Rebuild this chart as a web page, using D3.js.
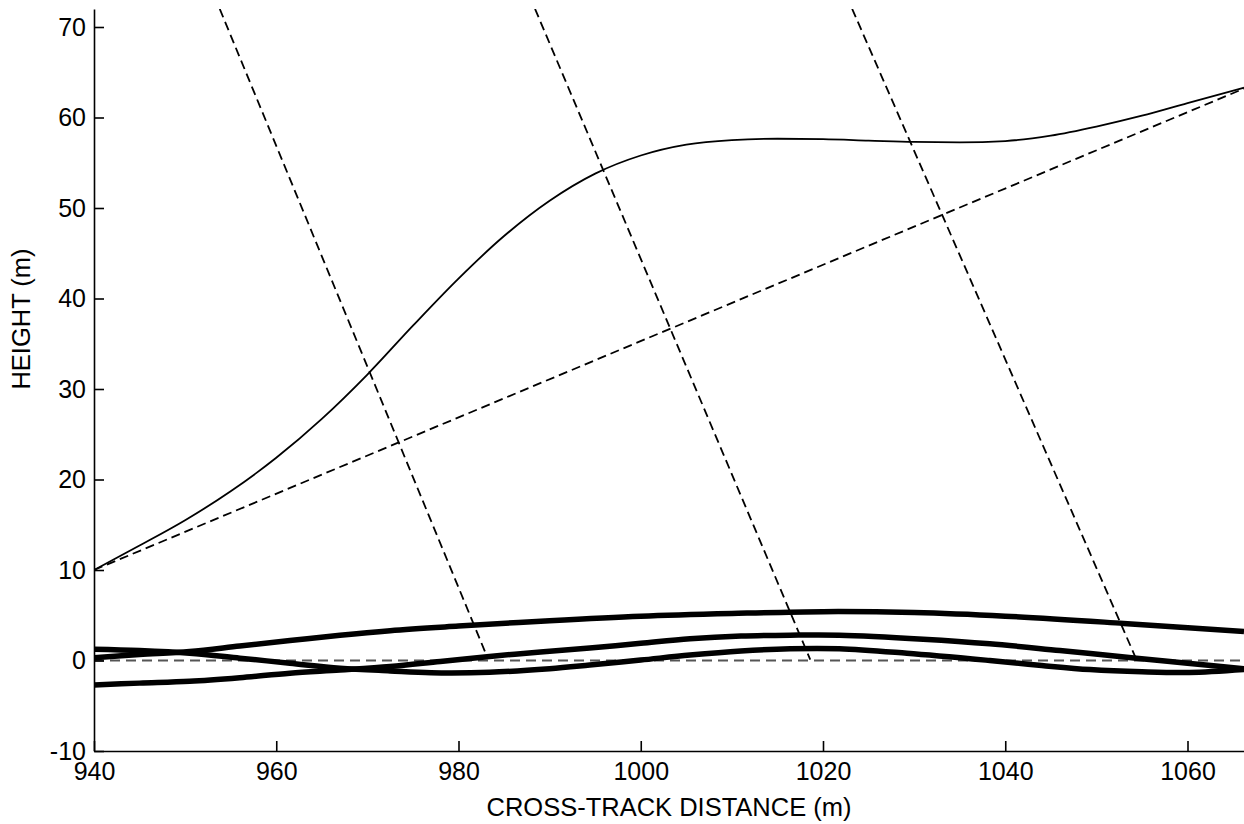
<!DOCTYPE html>
<html>
<head>
<meta charset="utf-8">
<script src="https://cdn.jsdelivr.net/npm/d3@7"></script>
<style>
  body { margin: 0; background: #fff; }
  svg { font-family: "Liberation Sans", Arial, sans-serif; }
</style>
</head>
<body>
<div id="vis"></div>
<script>
// thin solid profile
var thinX = [940, 945, 950, 955, 960, 965, 970, 975, 980, 985, 990, 995, 1000, 1005, 1010, 1015, 1020, 1025, 1030, 1035, 1040, 1045, 1050, 1055, 1060, 1066.2];
var thinY = [10, 12.7, 15.5, 18.7, 22.4, 26.7, 31.6, 37.0, 42.2, 46.9, 50.8, 53.8, 55.8, 57.0, 57.5, 57.65, 57.6, 57.45, 57.3, 57.25, 57.4, 58.0, 59.0, 60.2, 61.6, 63.3];

// three thick curves near the ground
var aX = [940, 945, 950.5, 956, 961.5, 967, 972.5, 980, 990, 1000, 1010, 1020, 1030, 1040, 1053, 1066.2];
var aY = [0.3, 0.65, 1.0, 1.6, 2.2, 2.8, 3.3, 3.8, 4.4, 4.9, 5.2, 5.4, 5.3, 4.9, 4.1, 3.2];
var bX = [940, 945, 950.5, 956, 961.5, 967, 972.5, 977, 983.4, 990, 994.4, 1000, 1005.4, 1011, 1016.4, 1021.8, 1029.2, 1038.3, 1044, 1049.3, 1055, 1060.2, 1066.2];
var bY = [1.25, 1.1, 0.8, 0.26, -0.3, -0.85, -1.15, -1.35, -1.3, -0.9, -0.5, 0.05, 0.6, 1.05, 1.3, 1.3, 0.8, 0.0, -0.55, -1.0, -1.25, -1.33, -1.0];
var cX = [940, 945, 950.5, 956, 961.5, 967, 972.5, 978, 983.4, 989, 994.4, 1000, 1005.4, 1011, 1016.4, 1021.8, 1031, 1038.3, 1046, 1054.4, 1060, 1066.2];
var cY = [-2.7, -2.5, -2.3, -1.9, -1.4, -1.05, -0.66, -0.1, 0.44, 0.95, 1.37, 1.9, 2.4, 2.7, 2.8, 2.8, 2.36, 1.85, 1.1, 0.26, -0.3, -0.9];

// straight dashed lines: [x1, y1, x2, y2]
var diagLine = [940, 10, 1066.2, 63.2];
var zeroLine = [940, 0, 1066.2, 0];
var steepLines = [
  [953.8, 72, 982.9, 1.0],
  [988.4, 72, 1018.6, 0.1],
  [1023.2, 72, 1054.4, 0.1]
];

var xTicks = [940, 960, 980, 1000, 1020, 1040, 1060];
var yTicks = [-10, 0, 10, 20, 30, 40, 50, 60, 70];

var W = 1244, H = 824;
var svg = d3.select("#vis").append("svg")
    .attr("width", W)
    .attr("height", H);

var x = d3.scaleLinear().domain([940, 1066.2]).range([94, 1244]);
var y = d3.scaleLinear().domain([-10, 72]).range([751, 8.9]);

svg.append("clipPath").attr("id", "plot")
  .append("rect")
    .attr("x", x(940)).attr("y", y(72))
    .attr("width", x(1066.2) - x(940)).attr("height", y(-10) - y(72));

var g = svg.append("g").attr("clip-path", "url(#plot)");

function zip(xs, ys) { return xs.map(function(d, i) { return [d, ys[i]]; }); }

var line = d3.line()
    .curve(d3.curveMonotoneX)
    .x(function(d) { return x(d[0]); })
    .y(function(d) { return y(d[1]); });

// zero reference
g.append("line")
    .attr("x1", x(zeroLine[0])).attr("y1", y(zeroLine[1]))
    .attr("x2", x(zeroLine[2])).attr("y2", y(zeroLine[3]))
    .attr("stroke", "#555").attr("stroke-width", 1.8)
    .attr("stroke-dasharray", "10,6");

// dashed straight lines
g.selectAll(".dl")
  .data([diagLine].concat(steepLines))
  .enter().append("line")
    .attr("class", "dl")
    .attr("x1", function(d) { return x(d[0]); })
    .attr("y1", function(d) { return y(d[1]); })
    .attr("x2", function(d) { return x(d[2]); })
    .attr("y2", function(d) { return y(d[3]); })
    .attr("stroke", "#000").attr("stroke-width", 1.8)
    .attr("stroke-dasharray", "9,5");

// thick curves
[[aX, aY], [bX, bY], [cX, cY]].forEach(function(s) {
  g.append("path")
    .datum(zip(s[0], s[1]))
    .attr("fill", "none")
    .attr("stroke", "#000")
    .attr("stroke-width", 5.5)
    .attr("d", line.curve(d3.curveCatmullRom));
});

// thin curve
g.append("path")
  .datum(zip(thinX, thinY))
  .attr("fill", "none")
  .attr("stroke", "#000")
  .attr("stroke-width", 1.8)
  .attr("d", line.curve(d3.curveMonotoneX));

// axes
var xAxis = svg.append("g")
    .attr("transform", "translate(0," + y(-10) + ")")
    .call(d3.axisBottom(x).tickValues(xTicks).tickFormat(function(d) { return String(d); })
      .tickSizeInner(-10).tickSizeOuter(0).tickPadding(11));
var yAxis = svg.append("g")
    .attr("transform", "translate(" + x(940) + ",0)")
    .call(d3.axisLeft(y).tickValues(yTicks).tickFormat(function(d) { return String(d); })
      .tickSizeInner(-10).tickSizeOuter(0).tickPadding(8));

[xAxis, yAxis].forEach(function(a) {
  a.selectAll("path, line").attr("stroke", "#000").attr("stroke-width", 1.6);
  a.selectAll("text").attr("fill", "#000").style("font-size", "25px")
    .style("font-family", "'Liberation Sans', Arial, sans-serif");
});

svg.append("text")
    .attr("x", 669).attr("y", 816)
    .attr("text-anchor", "middle")
    .style("font-size", "25.5px")
    .text("CROSS-TRACK DISTANCE (m)");

svg.append("text")
    .attr("transform", "translate(30,319) rotate(-90)")
    .attr("text-anchor", "middle")
    .style("font-size", "25.5px")
    .text("HEIGHT (m)");
</script>
</body>
</html>
